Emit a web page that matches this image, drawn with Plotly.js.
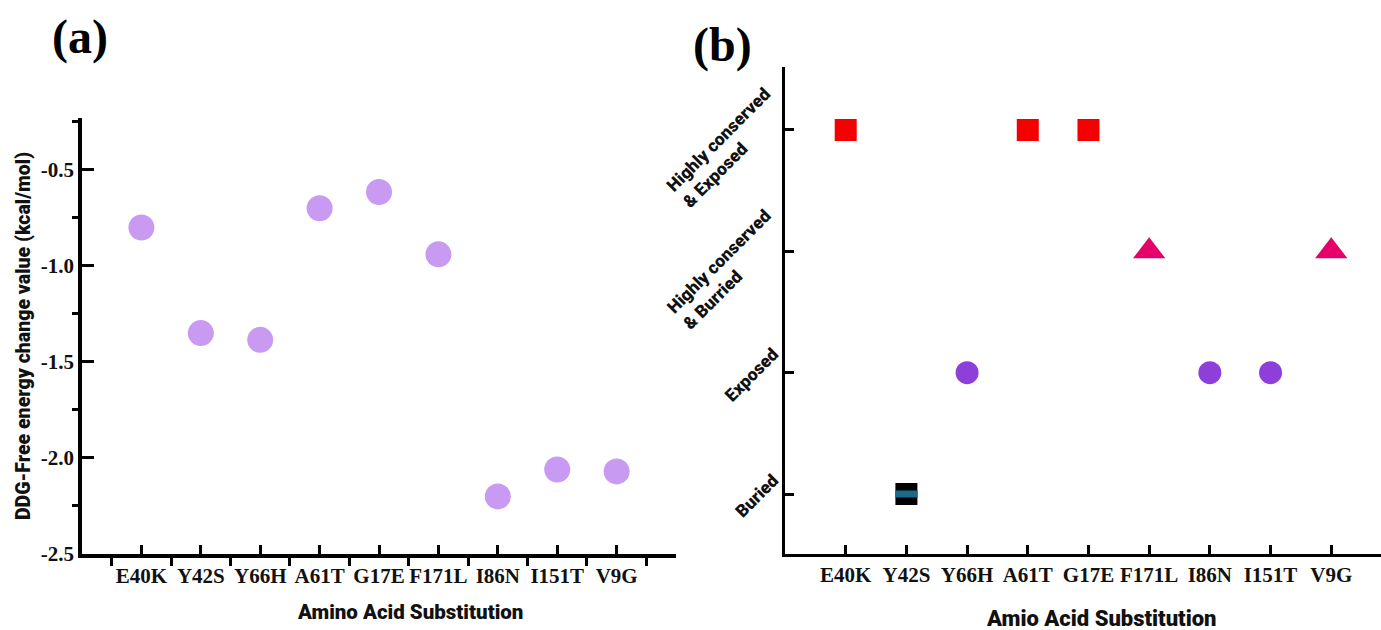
<!DOCTYPE html>
<html>
<head>
<meta charset="utf-8">
<script src="https://cdn.plot.ly/plotly-3.0.1.min.js"></script>
<style>html,body{margin:0;padding:0;background:#fff}#chart{width:1381px;height:630px}</style>
</head>
<body>
<div id="chart"></div>
<script>
// ---- data ----
const substitutions = ["E40K", "Y42S", "Y66H", "A61T", "G17E", "F171L", "I86N", "I151T", "V9G"];
const ddgValues = [-0.80, -1.35, -1.385, -0.70, -0.615, -0.94, -2.20, -2.06, -2.07];
const conservationClass = [4, 1, 2, 4, 4, 3, 2, 2, 3];
const classTickVals = [1, 2, 3, 4];
const classTickText = ["Buried", "Exposed", "Highly conserved<br>& Burried", "Highly conserved<br>& Exposed"];
const ddgTickVals = [-2.5, -2.0, -1.5, -1.0, -0.5];
const ddgTickText = ["-2.5", "-2.0", "-1.5", "-1.0", "-0.5"];
const xTitleA = "Amino Acid Substitution";
const xTitleB = "Amio Acid Substitution";
const yTitleA = "DDG-Free energy change value (kcal/mol)";

// ---- styles ----
const classStyle = {
  4: {symbol: "square", color: "#f50000", size: 22},
  3: {symbol: "triangle-up", color: "#e6006a", size: 28},
  2: {symbol: "circle", color: "#8e3fd9", size: 23},
  1: {symbol: "square", color: "#000000", size: 22}
};

const idx = substitutions.map((_, i) => i);
const SANS = "Roboto, Liberation Sans, Arial, sans-serif";
const SERIF = "Liberation Serif, Times New Roman, serif";
const serifTick = {family: SERIF, size: 21, color: "#111", weight: 700};

const traces = [];
traces.push({
  type: "scatter", mode: "markers", xaxis: "x", yaxis: "y",
  x: idx, y: ddgValues, text: substitutions,
  marker: {symbol: "circle", size: 26, color: "#c99af2"},
  hovertemplate: "%{text}: %{y}<extra></extra>"
});

[4, 3, 2, 1].forEach(c => {
  const xs = [], ys = [], ts = [];
  conservationClass.forEach((v, i) => { if (v === c) { xs.push(i); ys.push(v); ts.push(substitutions[i]); } });
  const st = classStyle[c];
  traces.push({
    type: "scatter", mode: "markers", xaxis: "x2", yaxis: "y2",
    x: xs, y: ys, text: ts,
    marker: {symbol: st.symbol, size: st.size, color: st.color},
    hovertemplate: "%{text}<extra></extra>"
  });
  if (c === 1) {
    traces.push({
      type: "scatter", mode: "markers", xaxis: "x2", yaxis: "y2",
      x: xs, y: ys, hoverinfo: "skip",
      marker: {symbol: "line-ew", size: 16, color: "#1b6a8a", line: {color: "#1b6a8a", width: 7}}
    });
  }
});

const xTickValsA = [-1].concat(idx, [9]);
const xTickTextA = [""].concat(substitutions, [""]);
const xTickValsB = [-1].concat(idx);
const xTickTextB = [""].concat(substitutions);

const xDomainA = [0, 0.4573];
const xDomainB = [0.5412, 1];

// panel (b) category labels: rotated, left-aligned text at each tick value
const classLabelAnnotations = classTickVals.map((v, i) => {
  const multi = classTickText[i].indexOf("<br>") >= 0;
  return {
    text: classTickText[i], xref: "paper", yref: "y2", x: xDomainB[0], y: v,
    xanchor: "right", yanchor: "middle", xshift: multi ? 9 : 0, yshift: multi ? -18 : -2,
    textangle: -45, align: "left", showarrow: false,
    font: {family: SANS, size: 17.5, color: "#111", weight: 900}
  };
});

const layout = {
  width: 1381, height: 630,
  margin: {l: 82, r: 0, t: 67, b: 76},
  paper_bgcolor: "#fff", plot_bgcolor: "#fff",
  showlegend: false,
  xaxis: {
    domain: xDomainA, range: [-1, 9],
    tickmode: "array", tickvals: xTickValsA, ticktext: xTickTextA,
    showline: true, linecolor: "#000", linewidth: 3.5,
    ticks: "inside", ticklen: 9, tickwidth: 3, tickcolor: "#000",
    minor: {tick0: -0.5, dtick: 1, ticks: "outside", ticklen: 8, tickwidth: 3, tickcolor: "#000"},
    showgrid: false, zeroline: false, tickfont: serifTick
  },
  yaxis: {
    domain: [0, 0.8953], range: [-2.5, -0.23],
    tickmode: "array", tickvals: ddgTickVals, ticktext: ddgTickText,
    showline: true, linecolor: "#000", linewidth: 3.5,
    ticks: "inside", ticklen: 12, tickwidth: 3, tickcolor: "#000",
    minor: {tick0: -0.75, dtick: 0.5, ticks: "outside", ticklen: 6, tickwidth: 3, tickcolor: "#000"},
    showgrid: false, zeroline: false, tickfont: serifTick,
    title: {text: yTitleA, font: {family: SANS, size: 19.5, color: "#111", weight: 900}, standoff: 6}
  },
  xaxis2: {
    domain: xDomainB, range: [-1, 8.82], anchor: "y2",
    tickmode: "array", tickvals: xTickValsB, ticktext: xTickTextB,
    showline: true, linecolor: "#000", linewidth: 3,
    ticks: "inside", ticklen: 9, tickwidth: 2.5, tickcolor: "#000",
    showgrid: false, zeroline: false, tickfont: serifTick
  },
  yaxis2: {
    domain: [0, 1], range: [0.5055, 4.519], anchor: "x2",
    tickmode: "array", tickvals: classTickVals, ticktext: classTickVals.map(() => ""),
    showline: true, linecolor: "#000", linewidth: 3,
    ticks: "inside", ticklen: 9, tickwidth: 2.5, tickcolor: "#000",
    showgrid: false, zeroline: false
  },
  annotations: [
    {text: "(a)", xref: "paper", yref: "paper", x: -0.0015, y: 1.0616, xanchor: "center", yanchor: "middle",
     showarrow: false, font: {family: SERIF, size: 48, color: "#000", weight: 700}},
    {text: "(b)", xref: "paper", yref: "paper", x: 0.4927, y: 1.045, xanchor: "center", yanchor: "middle",
     showarrow: false, font: {family: SERIF, size: 48, color: "#000", weight: 700}},
    {text: xTitleA, xref: "paper", yref: "paper", x: 0.2525, y: -0.119, xanchor: "center", yanchor: "middle",
     showarrow: false, font: {family: SANS, size: 20.5, color: "#111", weight: 900}},
    {text: xTitleB, xref: "paper", yref: "paper", x: 0.7845, y: -0.133, xanchor: "center", yanchor: "middle",
     showarrow: false, font: {family: SANS, size: 22, color: "#111", weight: 900}}
  ].concat(classLabelAnnotations)
};

Plotly.newPlot("chart", traces, layout, {displayModeBar: false});
</script>
</body>
</html>
